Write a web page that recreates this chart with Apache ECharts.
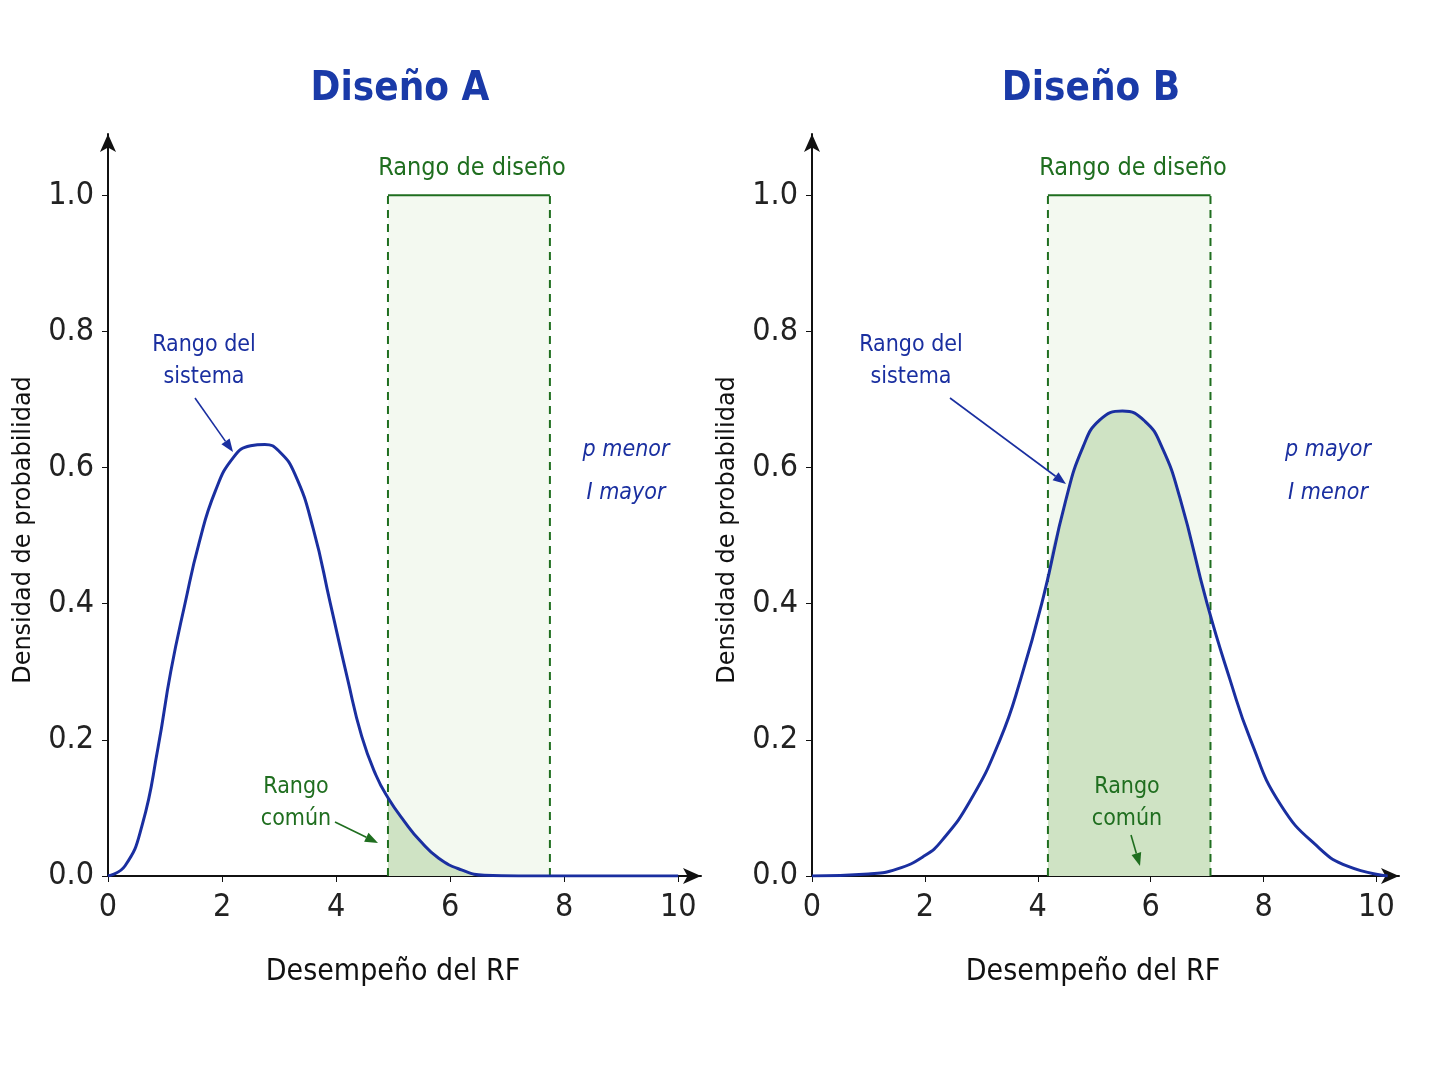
<!DOCTYPE html>
<html>
<head>
<meta charset="utf-8">
<script src="https://cdn.jsdelivr.net/npm/echarts@6/dist/echarts.min.js"></script>
<style>html,body{margin:0;background:#fff}#main{width:1448px;height:1086px}</style>
</head>
<body>
<div id="main"></div>
<script>
// curva del sistema, diseño A (x, densidad)
var curvaA = [[0,0],[0.3,0.015],[0.6,0.075],[0.88,0.19],[1.1,0.3],[1.35,0.4],[1.6,0.49],[1.88,0.565],[2.2,0.615],[2.5,0.632],
  [2.75,0.634],[3.0,0.624],[3.28,0.59],[3.6,0.51],[3.9,0.4],[4.2,0.29],[4.45,0.205],[4.7,0.148],[4.91,0.115],
  [5.2,0.08],[5.47,0.052],[5.8,0.026],[6.2,0.009],[6.6,0.001],[7.2,0],[10,0]];
// curva del sistema, diseño B
var curvaB = [[0,0],[1,0.003],[1.5,0.01],[2,0.03],[2.3,0.052],[2.8,0.11],[3.33,0.2],[3.7,0.29],[4.1,0.41],[4.49,0.55],
  [4.8,0.63],[5.1,0.67],[5.5,0.683],[5.9,0.668],[6.2,0.63],[6.52,0.555],[7.0,0.4],[7.4,0.29],[7.77,0.2],
  [8.3,0.105],[9.0,0.04],[9.5,0.014],[10.2,0]];
var rangoA = [4.91, 7.75];
var rangoB = [4.18, 7.06];

var azul = '#1a2fa0', verde = '#1f6e1f';
var cond = "'Liberation Sans Narrow', 'DejaVu Sans Condensed', sans-serif";
var suave = 0.5;

function interp(c, x) {
  for (var i = 1; i < c.length; i++) {
    if (c[i][0] >= x) {
      var a = c[i-1], b = c[i], t = (x - a[0]) / (b[0] - a[0]);
      return a[1] + t * (b[1] - a[1]);
    }
  }
  return 0;
}
function recorte(c, r) {
  var out = [[r[0], 0], [r[0], interp(c, r[0])]];
  c.forEach(function (p) { if (p[0] > r[0] && p[0] < r[1]) out.push(p); });
  out.push([r[1], interp(c, r[1])], [r[1], 0]);
  return out;
}

var grids = [
  {left: 108, width: 593, top: 134, height: 742},
  {left: 812, width: 587, top: 134, height: 742}
];
function xAxis(i) {
  return {gridIndex: i, type: 'value', min: 0, max: 10.4, interval: 2,
    axisLine: {lineStyle: {color: '#111', width: 2}, symbol: ['none', 'arrow'], symbolSize: [12, 18]},
    axisTick: {show: true, length: 6, lineStyle: {color: '#111'}}, splitLine: {show: false},
    axisLabel: {fontFamily: cond, fontSize: 32, color: '#222', margin: 16, showMaxLabel: false}};
}
function yAxis(i) {
  return {gridIndex: i, type: 'value', min: 0, max: 1.09, interval: 0.2,
    axisLine: {show: true, lineStyle: {color: '#111', width: 2}, symbol: ['none', 'arrow'], symbolSize: [12, 18]},
    axisTick: {show: true, length: 6, lineStyle: {color: '#111'}}, splitLine: {show: false},
    axisLabel: {fontFamily: cond, fontSize: 32, color: '#222', margin: 14, showMaxLabel: false,
      formatter: function (v) { return v.toFixed(1); }}};
}
function seriesPanel(i, curva, rango) {
  return [
    {type: 'line', xAxisIndex: i, yAxisIndex: i, data: [[rango[0], 1], [rango[1], 1]], symbol: 'none', silent: true,
      lineStyle: {color: verde, width: 2}, areaStyle: {color: '#eef6ea', origin: 'start'}, z: 1},
    {type: 'line', xAxisIndex: i, yAxisIndex: i, data: recorte(curva, rango), symbol: 'none', smooth: 0.3,
      lineStyle: {width: 0}, areaStyle: {color: '#cfe3c4', opacity: 1}, z: 2},
    {type: 'line', xAxisIndex: i, yAxisIndex: i, data: [[rango[0], 0], [rango[0], 1]], symbol: 'none',
      lineStyle: {color: verde, width: 2, type: [8, 6]}, z: 3},
    {type: 'line', xAxisIndex: i, yAxisIndex: i, data: [[rango[1], 0], [rango[1], 1]], symbol: 'none',
      lineStyle: {color: verde, width: 2, type: [8, 6]}, z: 3},
    {type: 'line', xAxisIndex: i, yAxisIndex: i, data: curva, symbol: 'none', smooth: suave,
      lineStyle: {color: azul, width: 3}, z: 4}
  ];
}

function txt(x, y, s, size, color, extra) {
  var st = {text: s, fontSize: size, fill: color, fontFamily: cond, textAlign: 'center', textVerticalAlign: 'middle', lineHeight: size * 1.4};
  for (var k in extra) st[k] = extra[k];
  return {type: 'text', x: x, y: y, style: st, z: 10};
}
function flecha(x1, y1, x2, y2, color) {
  var a = Math.atan2(y2 - y1, x2 - x1), L = 13, W = 5;
  var bx = x2 - L * Math.cos(a), by = y2 - L * Math.sin(a);
  return [
    {type: 'line', shape: {x1: x1, y1: y1, x2: bx, y2: by}, style: {stroke: color, lineWidth: 1.6}, z: 10},
    {type: 'polygon', shape: {points: [[x2, y2], [bx + W * Math.sin(a), by - W * Math.cos(a)], [bx - W * Math.sin(a), by + W * Math.cos(a)]]},
      style: {fill: color}, z: 10}
  ];
}

var graphic = [
  txt(400, 90, 'Diseño A', 40, '#1a3aa8', {fontWeight: 'bold'}),
  txt(1091, 90, 'Diseño B', 40, '#1a3aa8', {fontWeight: 'bold'}),
  txt(472, 168, 'Rango de diseño', 25, verde),
  txt(1133, 168, 'Rango de diseño', 25, verde),
  txt(204, 361, 'Rango del\nsistema', 23, azul),
  txt(911, 361, 'Rango del\nsistema', 23, azul),
  txt(626, 450, 'p menor', 23, azul, {fontStyle: 'italic'}),
  txt(626, 493, 'I mayor', 23, azul, {fontStyle: 'italic'}),
  txt(1328, 450, 'p mayor', 23, azul, {fontStyle: 'italic'}),
  txt(1328, 493, 'I menor', 23, azul, {fontStyle: 'italic'}),
  txt(296, 803, 'Rango\ncomún', 23, verde),
  txt(1127, 803, 'Rango\ncomún', 23, verde),
  txt(393, 972, 'Desempeño del RF', 30, '#111'),
  txt(1093, 972, 'Desempeño del RF', 30, '#111'),
  {type: 'text', x: 24, y: 530, rotation: Math.PI / 2, style: {text: 'Densidad de probabilidad', fontSize: 24, fill: '#111',
    fontFamily: 'DejaVu Sans', textAlign: 'center', textVerticalAlign: 'middle'}},
  {type: 'text', x: 728, y: 530, rotation: Math.PI / 2, style: {text: 'Densidad de probabilidad', fontSize: 24, fill: '#111',
    fontFamily: 'DejaVu Sans', textAlign: 'center', textVerticalAlign: 'middle'}}
].concat(flecha(195, 398, 233, 452, azul), flecha(950, 398, 1066, 484, azul),
  flecha(335, 822, 378, 843, verde), flecha(1131, 835, 1140, 866, verde));

var chart = echarts.init(document.getElementById('main'));
chart.setOption({
  animation: false,
  grid: grids,
  xAxis: [xAxis(0), xAxis(1)],
  yAxis: [yAxis(0), yAxis(1)],
  series: seriesPanel(0, curvaA, rangoA).concat(seriesPanel(1, curvaB, rangoB)),
  graphic: graphic
});
</script>
</body>
</html>
